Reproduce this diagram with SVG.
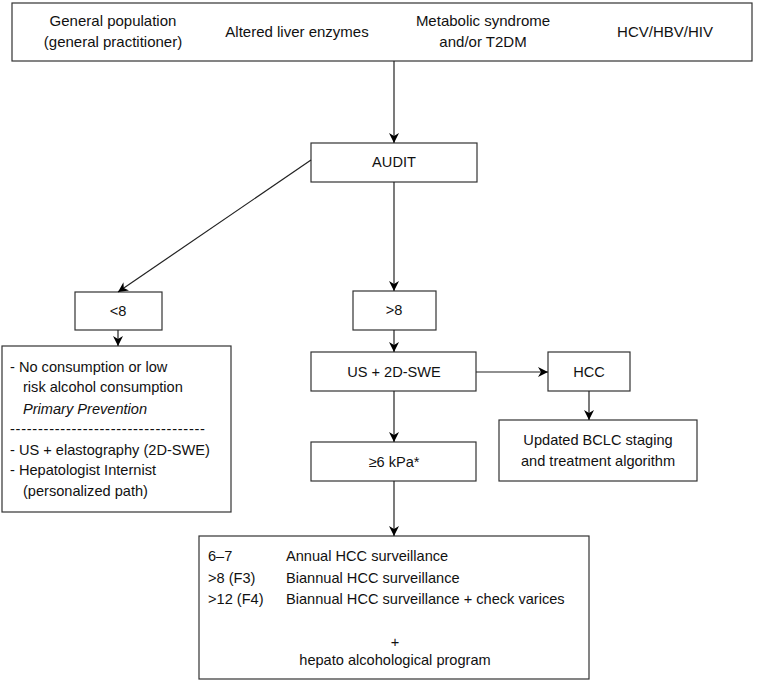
<svg xmlns="http://www.w3.org/2000/svg" width="761" height="680" viewBox="0 0 761 680">
<defs>
<marker id="ah" markerWidth="10" markerHeight="12" refX="10" refY="5" orient="auto" markerUnits="userSpaceOnUse">
<path d="M0,0 L10,5 L0,10 L3,5 Z" fill="#000"/>
</marker>
<style>
.box{fill:#fff;stroke:#333;stroke-width:1.2}
text{font-family:"Liberation Sans",Arial,sans-serif;font-size:14.6px;fill:#111}
.t{font-size:15px}
.c{text-anchor:middle}
.ln{stroke:#222;stroke-width:1.2;fill:none;marker-end:url(#ah)}
</style>
</defs>
<rect width="761" height="680" fill="#fff"/>
<g id="top">
<rect class="box" x="12" y="3" width="740" height="58"/>
<text class="c t" x="113" y="26">General population</text>
<text class="c t" x="113" y="47">(general practitioner)</text>
<text class="c t" x="297" y="37">Altered liver enzymes</text>
<text class="c t" x="483" y="26">Metabolic syndrome</text>
<text class="c t" x="483" y="47">and/or T2DM</text>
<text class="c t" x="665" y="37">HCV/HBV/HIV</text>
</g>
<g id="audit">
<rect class="box" x="311" y="143" width="166" height="39"/>
<text class="c" x="394" y="167">AUDIT</text>
</g>
<g id="lt8">
<rect class="box" x="75" y="292" width="87" height="38"/>
<text class="c" x="118" y="316">&lt;8</text>
</g>
<g id="gt8">
<rect class="box" x="353" y="291" width="83" height="39"/>
<text class="c" x="394" y="315">&gt;8</text>
</g>
<g id="left">
<rect class="box" x="2" y="346" width="229" height="166"/>
<text x="10" y="372">- No consumption or low</text>
<text x="23" y="392">risk alcohol consumption</text>
<text x="23" y="414" font-style="italic">Primary Prevention</text>
<text x="10" y="434" textLength="195" lengthAdjust="spacing">-----------------------------------</text>
<text x="10" y="455">- US + elastography (2D-SWE)</text>
<text x="10" y="475">- Hepatologist Internist</text>
<text x="23" y="496">(personalized path)</text>
</g>
<g id="us">
<rect class="box" x="311" y="352" width="165" height="39"/>
<text class="c" x="394" y="377">US + 2D-SWE</text>
</g>
<g id="hcc">
<rect class="box" x="548" y="352" width="82" height="39"/>
<text class="c" x="589" y="377">HCC</text>
</g>
<g id="bclc">
<rect class="box" x="499" y="420" width="198" height="61"/>
<text class="c" x="598" y="445">Updated BCLC staging</text>
<text class="c" x="598" y="466">and treatment algorithm</text>
</g>
<g id="kpa">
<rect class="box" x="311" y="442" width="165" height="39"/>
<text class="c" x="394" y="467">≥6 kPa*</text>
</g>
<g id="bottom">
<rect class="box" x="199" y="536" width="390" height="143"/>
<text x="208" y="561">6–7</text>
<text x="286" y="561">Annual HCC surveillance</text>
<text x="208" y="583">&gt;8 (F3)</text>
<text x="286" y="583">Biannual HCC surveillance</text>
<text x="208" y="604">&gt;12 (F4)</text>
<text x="286" y="604">Biannual HCC surveillance + check varices</text>
<text class="c" x="395" y="647">+</text>
<text class="c" x="395" y="665">hepato alcohological program</text>
</g>
<g id="connectors">
<line class="ln" x1="394" y1="61" x2="394" y2="143"/>
<line class="ln" x1="311" y1="160" x2="118" y2="292"/>
<line class="ln" x1="394" y1="182" x2="394" y2="291"/>
<line class="ln" x1="118" y1="330" x2="118" y2="346"/>
<line class="ln" x1="394" y1="330" x2="394" y2="352"/>
<line class="ln" x1="476" y1="372" x2="548" y2="372"/>
<line class="ln" x1="589" y1="391" x2="589" y2="420"/>
<line class="ln" x1="394" y1="391" x2="394" y2="442"/>
<line class="ln" x1="394" y1="481" x2="394" y2="536"/>
</g>
</svg>
